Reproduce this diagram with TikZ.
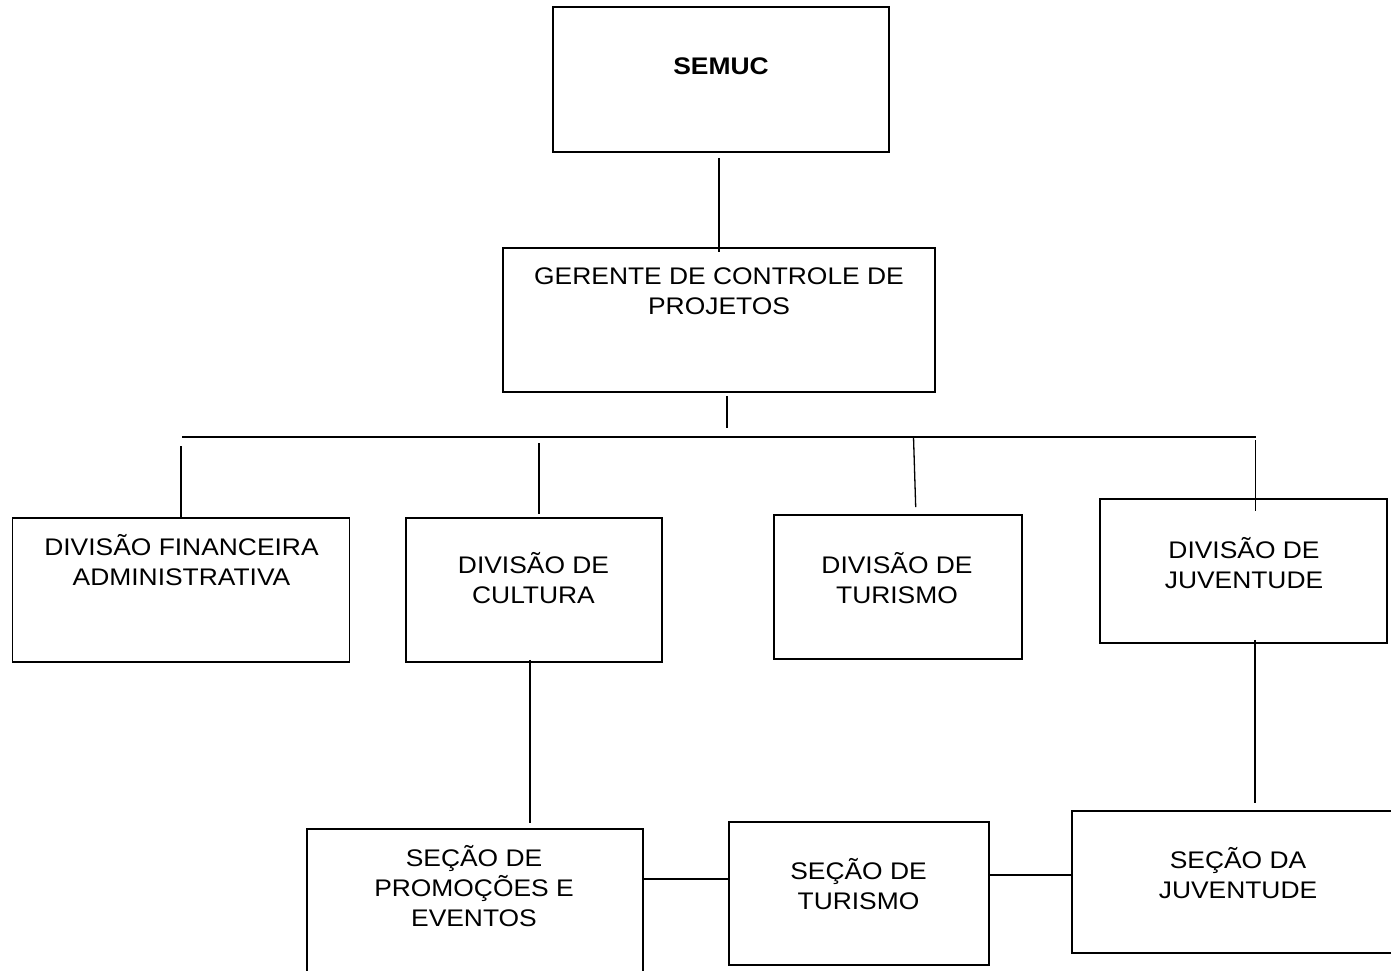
\documentclass[tikz,border=0pt]{standalone}
\usepackage{fontspec}
\setmainfont[FakeStretch=1.1]{Liberation Sans}

\tikzset{
  caixa/.style 2 args={draw, line width=1.8pt, minimum width=#1, minimum height=#2, inner sep=0pt},
  rotulo/.style={align=center, inner sep=0pt, font=\fontsize{24}{30}\selectfont},
  linha/.style={line width=1.3pt}
}

\begin{document}
\begin{tikzpicture}[x=1pt,y=-1pt]
\useasboundingbox (0,0) rectangle (1391,971);
\clip (0,0) rectangle (1391,971);

\node[caixa={336pt}{145pt}] (semuc) at (721,79.5) {};
\node[caixa={432pt}{144pt}] (gcp) at (719,320) {};
\node[caixa={337pt}{144pt}] (dfa) at (181,590) {};
\node[caixa={256pt}{144pt}] (dcu) at (534,590) {};
\node[caixa={248pt}{144pt}] (dtu) at (898,587) {};
\node[caixa={287pt}{144pt}] (dju) at (1243.5,571) {};
\node[caixa={336pt}{144pt}] (spe) at (475,901) {};
\node[caixa={260pt}{143pt}] (stu) at (859,893.5) {};
\node[caixa={332pt}{142pt}] (sdj) at (1238,882) {};

\node[rotulo, font=\fontsize{24}{30}\selectfont\bfseries] (semuct) at (721,66) {SEMUC};
\node[rotulo] (gcpt) at (719,291) {GERENTE DE CONTROLE DE\\PROJETOS};
\node[rotulo] (dfat) at (181.5,560.5) {DIVISÃO FINANCEIRA\\ADMINISTRATIVA};
\node[rotulo] (dcut) at (533.5,578.5) {DIVISÃO DE\\CULTURA};
\node[rotulo] (dtut) at (897,578.5) {DIVISÃO DE\\TURISMO};
\node[rotulo] (djut) at (1244,563) {DIVISÃO DE\\JUVENTUDE};
\node[rotulo] (spet) at (474,886.5) {SEÇÃO DE\\PROMOÇÕES E\\EVENTOS};
\node[rotulo] (stut) at (858.5,884) {SEÇÃO DE\\TURISMO};
\node[rotulo] (sdjt) at (1238,873) {SEÇÃO DA\\JUVENTUDE};

\coordinate (busesq) at (182,437);
\coordinate (busdir) at (1255.5,437);
\draw[linha] (busesq) -- (busdir);

\draw[linha, shorten <=5pt, shorten >=-5pt] (semuc.south -| gcp.north) -- (gcp.north);
\draw[linha, shorten <=3pt, shorten >=9pt] ([xshift=8pt]gcp.south) -- ([xshift=8pt]gcp.south |- busesq);
\draw[linha, shorten <=9pt] (dfa.north |- busesq) -- (dfa.north);
\draw[linha, shorten <=6pt, shorten >=3pt] ([xshift=5pt]dcu.north |- busesq) -- ([xshift=5pt]dcu.north);
\draw[linha] ([xshift=15.5pt]dtu.north |- busesq) -- ([xshift=17.7pt,yshift=7pt]dtu.north);
\draw[linha, shorten <=3pt, shorten >=-13pt] (busdir) -- (busdir |- dju.north);

\draw[linha, shorten <=-3pt, shorten >=5pt] ([xshift=-4pt]dcu.south) -- ([xshift=-4pt]dcu.south |- spe.north);
\draw[linha, shorten <=-4pt, shorten >=7pt] ([xshift=11.5pt]dju.south) -- ([xshift=11.5pt]dju.south |- sdj.north);

\path ([yshift=22pt]spe.east) coordinate (pe1);
\draw[linha] (pe1) -- (pe1 -| stu.west);
\path ([yshift=18.5pt]stu.east) coordinate (st1);
\draw[linha] (st1) -- (st1 -| sdj.west);
\end{tikzpicture}
\end{document}
